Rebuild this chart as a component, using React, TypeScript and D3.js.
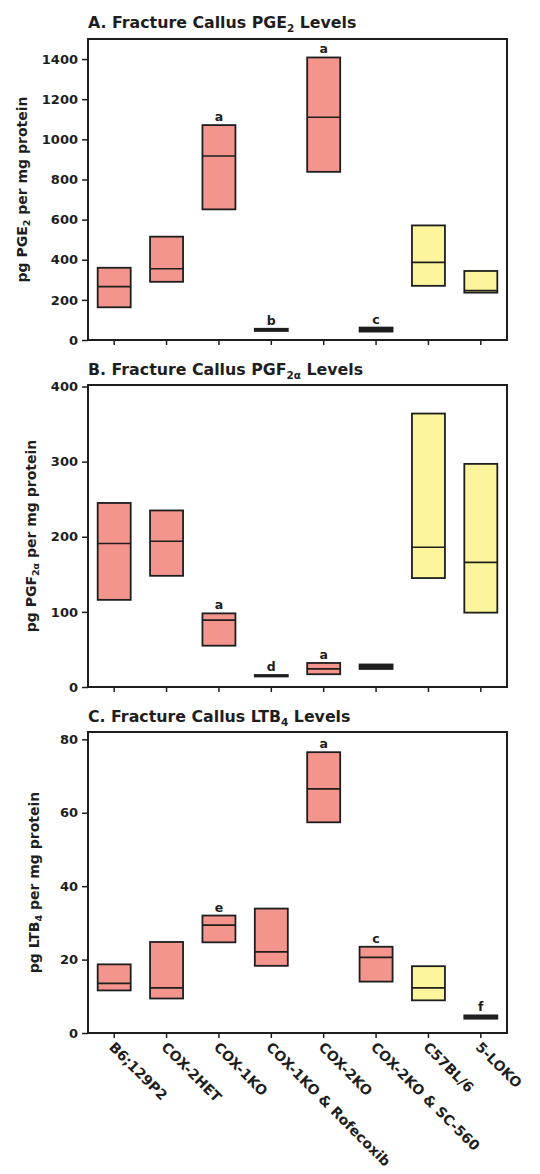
import React, { useEffect, useRef } from "react";
import * as d3 from "d3";

// groups along the x axis (same for all three panels)
const groups = [
  "B6;129P2",
  "COX-2HET",
  "COX-1KO",
  "COX-1KO & Rofecoxib",
  "COX-2KO",
  "COX-2KO & SC-560",
  "C57BL/6",
  "5-LOKO",
];
const controlGroups = ["C57BL/6", "5-LOKO"];

// A. PGE2 (pg per mg protein): 25th pct, median, 75th pct
const pgeLow = [163, 290, 651, 45, 838, 42, 270, 236];
const pgeMedian = [266, 355, 917, 50, 1110, 52, 387, 246];
const pgeHigh = [360, 515, 1071, 56, 1408, 62, 571, 344];
const pgeLetters = ["", "", "a", "b", "a", "c", "", ""];
const pgeTicks = [0, 200, 400, 600, 800, 1000, 1200, 1400];

// B. PGF2a
const pgfLow = [116, 148, 55, 14, 17, 24, 145, 99];
const pgfMedian = [191, 194, 89, 15, 24, 27, 186, 166];
const pgfHigh = [245, 235, 98, 16, 32, 30, 364, 297];
const pgfLetters = ["", "", "a", "d", "a", "", "", ""];
const pgfTicks = [0, 100, 200, 300, 400];

// C. LTB4
const ltbLow = [11.6, 9.4, 24.7, 18.3, 57.4, 14, 8.9, 3.9];
const ltbMedian = [13.5, 12.3, 29.4, 22.1, 66.5, 20.6, 12.3, 4.3];
const ltbHigh = [18.7, 24.8, 32, 33.9, 76.5, 23.5, 18.2, 4.8];
const ltbLetters = ["", "", "e", "", "a", "c", "", "f"];
const ltbTicks = [0, 20, 40, 60, 80];

const FONT = "'DejaVu Sans', Arial, sans-serif";
const INK = "#1e1e1e";

const App = () => {
  const svgRef = useRef<SVGSVGElement>(null);

  useEffect(() => {
    const svg = d3.select(svgRef.current);
    svg.selectAll("*").remove();

    const left = 88;
    const right = 507;

    const x = d3.scaleBand().domain(groups).range([left, right]).padding(0);
    const boxW = 33;

    const panels = [
      {
        title: ["A. Fracture Callus PGE", "2", " Levels"],
        ylab: ["pg PGE", "2", " per mg protein"],
        top: 39, bottom: 340, max: 1500, titleY: 28, ylabX: 27,
        ticks: pgeTicks, low: pgeLow, med: pgeMedian, high: pgeHigh, letters: pgeLetters,
      },
      {
        title: ["B. Fracture Callus PGF", "2\u03b1", " Levels"],
        ylab: ["pg PGF", "2\u03b1", " per mg protein"],
        top: 385, bottom: 687, max: 402, titleY: 375, ylabX: 36,
        ticks: pgfTicks, low: pgfLow, med: pgfMedian, high: pgfHigh, letters: pgfLetters,
      },
      {
        title: ["C. Fracture Callus LTB", "4", " Levels"],
        ylab: ["pg LTB", "4", " per mg protein"],
        top: 732, bottom: 1033, max: 82, titleY: 722, ylabX: 39,
        ticks: ltbTicks, low: ltbLow, med: ltbMedian, high: ltbHigh, letters: ltbLetters,
      },
    ];

    panels.forEach((p, pi) => {
      const y = d3.scaleLinear().domain([0, p.max]).range([p.bottom, p.top]);
      const g = svg.append("g");

      // title with subscript
      const t = g.append("text")
        .attr("x", left)
        .attr("y", p.titleY)
        .attr("font-family", FONT)
        .attr("font-weight", "bold")
        .attr("font-size", 15.8)
        .attr("fill", INK);
      t.append("tspan").text(p.title[0]);
      t.append("tspan").attr("font-size", 10.5).attr("dy", 4).text(p.title[1]);
      t.append("tspan").attr("dy", -4).text(p.title[2]);

      // boxes
      groups.forEach((grp, i) => {
        const cx = x(grp)! + x.bandwidth() / 2;
        const yTop = y(p.high[i]);
        const yBot = y(p.low[i]);
        const fill = controlGroups.includes(grp) ? "#fdf59b" : "#f4958d";
        g.append("rect")
          .attr("x", cx - boxW / 2)
          .attr("y", yTop)
          .attr("width", boxW)
          .attr("height", yBot - yTop)
          .attr("fill", yBot - yTop < 5 ? INK : fill)
          .attr("stroke", INK)
          .attr("stroke-width", 1.8);
        g.append("line")
          .attr("x1", cx - boxW / 2)
          .attr("x2", cx + boxW / 2)
          .attr("y1", y(p.med[i]))
          .attr("y2", y(p.med[i]))
          .attr("stroke", INK)
          .attr("stroke-width", 1.7);
        if (p.letters[i]) {
          g.append("text")
            .attr("x", cx)
            .attr("y", yTop - 4)
            .attr("text-anchor", "middle")
            .attr("font-family", FONT)
            .attr("font-weight", "bold")
            .attr("font-size", 12.5)
            .attr("fill", INK)
            .text(p.letters[i]);
        }
      });

      // frame
      g.append("rect")
        .attr("x", left)
        .attr("y", p.top)
        .attr("width", right - left)
        .attr("height", p.bottom - p.top)
        .attr("fill", "none")
        .attr("stroke", INK)
        .attr("stroke-width", 2);

      // y axis
      const ya = g.append("g")
        .attr("transform", `translate(${left},0)`)
        .call(d3.axisLeft(y).tickValues(p.ticks).tickSize(6).tickPadding(4).tickFormat(d3.format("d")));
      ya.select(".domain").remove();
      ya.selectAll("line").attr("stroke", INK).attr("stroke-width", 1.5);
      ya.selectAll("text")
        .attr("font-family", FONT)
        .attr("font-weight", "bold")
        .attr("font-size", 13)
        .attr("fill", INK);

      // x axis ticks
      const xa = g.append("g")
        .attr("transform", `translate(0,${p.bottom})`)
        .call(d3.axisBottom(x).tickSize(5).tickFormat(() => ""));
      xa.select(".domain").remove();
      xa.selectAll("line").attr("stroke", INK).attr("stroke-width", 1.5);

      // y label
      const yl = g.append("text")
        .attr("transform", `translate(${p.ylabX},${(p.top + p.bottom) / 2}) rotate(-90)`)
        .attr("text-anchor", "middle")
        .attr("font-family", FONT)
        .attr("font-weight", "bold")
        .attr("font-size", 14)
        .attr("fill", INK);
      yl.append("tspan").text(p.ylab[0]);
      yl.append("tspan").attr("font-size", 9.5).attr("dy", 3).text(p.ylab[1]);
      yl.append("tspan").attr("dy", -3).text(p.ylab[2]);

      // category labels only under the last panel
      if (pi === panels.length - 1) {
        groups.forEach((grp) => {
          const cx = x(grp)! + x.bandwidth() / 2;
          g.append("text")
            .attr("transform", `translate(${cx - 6},${p.bottom + 15}) rotate(45)`)
            .attr("font-family", FONT)
            .attr("font-weight", "bold")
            .attr("font-size", 14)
            .attr("fill", INK)
            .text(grp);
        });
      }
    });
  }, []);

  return (
    <div style={{ position: "absolute", left: 0, top: 0, background: "#fff" }}>
      <svg ref={svgRef} width={540} height={1174} style={{ display: "block" }} />
    </div>
  );
};

export default App;
